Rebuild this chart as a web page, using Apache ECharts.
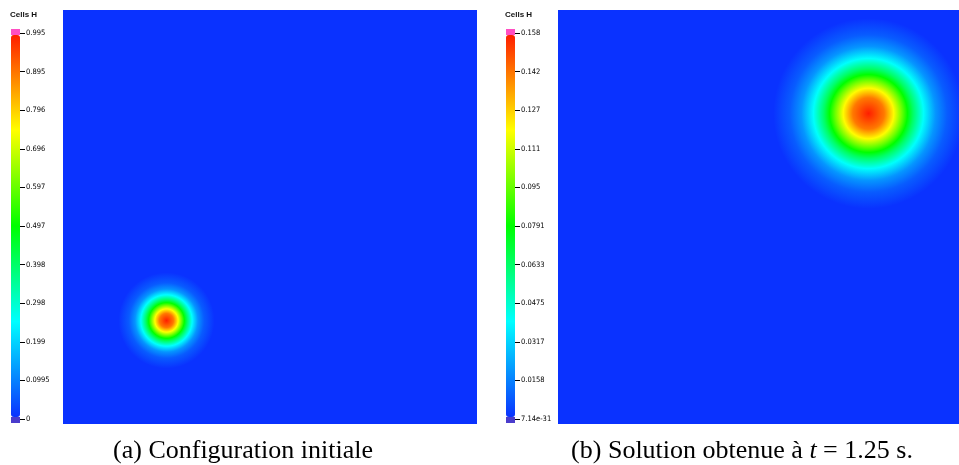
<!DOCTYPE html>
<html>
<head>
<meta charset="utf-8">
<script src="https://cdn.jsdelivr.net/npm/echarts/dist/echarts.min.js"></script>
<style>
html,body{margin:0;padding:0;background:#ffffff;}
#c{width:959px;height:465px;}
</style>
</head>
<body>
<div id="c"></div>
<script>
// ---- data ----
const varName = 'Cells H';
const ticksA = ['0','0.0995','0.199','0.298','0.398','0.497','0.597','0.696','0.796','0.895','0.995'];
const ticksB = ['7.14e-31','0.0158','0.0317','0.0475','0.0633','0.0791','0.095','0.111','0.127','0.142','0.158'];
const rangeA = [0, 0.995];
const rangeB = [7.14e-31, 0.158];
// blob centre (domain units) and peak value
const peakA = [0.25, 0.25, 0.995];
const peakB = [0.75, 0.75, 0.158];
// radial profile: field value levels and the radius (domain units) where each is reached
const levelsA = [0.995, 0.896, 0.746, 0.597, 0.498, 0.398, 0.249, 0.119, 0.050, 0];
const radiiA  = [0, 0.017, 0.028, 0.037, 0.043, 0.050, 0.062, 0.076, 0.091, 0.116];
const levelsB = [0.158, 0.142, 0.119, 0.095, 0.079, 0.063, 0.040, 0.019, 0.008, 0];
const radiiB  = [0, 0.038, 0.061, 0.081, 0.094, 0.108, 0.133, 0.162, 0.190, 0.230];
const captionA = '(a) Configuration initiale';
const captionB = '(b) Solution obtenue à {i|t} = 1.25 s.';

// ---- styling ----
const cmap = ['#0a32ff', '#00ffff', '#00ff00', '#ffff00', '#ff1e00'];
const tickFont = "'Liberation Sans Narrow','Arial Narrow','DejaVu Sans Condensed','Liberation Sans',sans-serif";
const PANEL = 414;               // full domain size in px
const VISIBLE_B = 959 - 558;     // panel b is cut by the page edge

function blobRenderer(levels, radii, range) {
  return function (params, api) {
    const c = api.coord([api.value(0), api.value(1)]);
    const outer = radii[radii.length - 1];
    const c2 = api.coord([api.value(0), api.value(1) + outer]);
    const rPx = Math.abs(c2[1] - c[1]);
    const stops = levels.map(function (v, i) {
      let t = (v - range[0]) / (range[1] - range[0]);
      t = Math.max(0, Math.min(1, t));
      return { offset: radii[i] / outer, color: echarts.color.lerp(t, cmap) };
    });
    return {
      type: 'circle',
      shape: { cx: c[0], cy: c[1], r: rPx },
      style: { fill: new echarts.graphic.RadialGradient(0.5, 0.5, 0.5, stops) }
    };
  };
}

const chart = echarts.init(document.getElementById('c'));

function panelGrid(left, width) {
  return { left: left, top: 10, width: width, height: PANEL, show: true, backgroundColor: cmap[0], borderWidth: 0, z: 1 };
}
// narrow grid just right of each colour bar; its split lines act as the tick dashes
function tickGrid(left) {
  return { left: left, top: 33, width: 5, height: 386, show: false, z: 0 };
}
function hiddenValueAxis(gridIndex, max) {
  return { type: 'value', gridIndex: gridIndex, min: 0, max: max, show: false };
}
function tickAxis(gridIndex, labels) {
  return {
    type: 'category', gridIndex: gridIndex, data: labels, position: 'right', boundaryGap: false, z: 0,
    axisLine: { show: false },
    axisTick: { show: false },
    splitLine: { show: true, lineStyle: { color: '#000', width: 1, type: 'solid' } },
    axisLabel: { margin: 1, fontSize: 7.5, color: '#000', fontFamily: tickFont }
  };
}

chart.setOption({
  animation: false,
  grid: [panelGrid(63, PANEL), panelGrid(558, VISIBLE_B), tickGrid(20), tickGrid(515)],
  xAxis: [hiddenValueAxis(0, 1), hiddenValueAxis(1, VISIBLE_B / PANEL), hiddenValueAxis(2, 1), hiddenValueAxis(3, 1)],
  yAxis: [hiddenValueAxis(0, 1), hiddenValueAxis(1, 1), tickAxis(2, ticksA), tickAxis(3, ticksB)],
  visualMap: [
    { type: 'continuous', seriesIndex: 0, dimension: 2, min: rangeA[0], max: rangeA[1],
      inRange: { color: cmap }, left: 11, top: 35, itemWidth: 9, itemHeight: 382,
      calculable: false, hoverLink: false, padding: 0, text: null },
    { type: 'continuous', seriesIndex: 1, dimension: 2, min: rangeB[0], max: rangeB[1],
      inRange: { color: cmap }, left: 506, top: 35, itemWidth: 9, itemHeight: 382,
      calculable: false, hoverLink: false, padding: 0, text: null }
  ],
  series: [
    { type: 'custom', xAxisIndex: 0, yAxisIndex: 0, data: [peakA], clip: true, silent: true, z: 2,
      renderItem: blobRenderer(levelsA, radiiA, rangeA) },
    { type: 'custom', xAxisIndex: 1, yAxisIndex: 1, data: [peakB], clip: true, silent: true, z: 2,
      renderItem: blobRenderer(levelsB, radiiB, rangeB) }
  ],
  graphic: [
    { type: 'rect', shape: { x: 11, y: 29, width: 9, height: 6 }, style: { fill: '#ff4fc3' }, z: 5 },
    { type: 'rect', shape: { x: 11, y: 417, width: 9, height: 6 }, style: { fill: '#4a3ccc' }, z: 5 },
    { type: 'rect', shape: { x: 506, y: 29, width: 9, height: 6 }, style: { fill: '#ff4fc3' }, z: 5 },
    { type: 'rect', shape: { x: 506, y: 417, width: 9, height: 6 }, style: { fill: '#4a3ccc' }, z: 5 },
    { type: 'text', x: 10, y: 15, style: { text: varName, font: "bold 8px 'Liberation Sans'", fill: '#111', textVerticalAlign: 'middle' } },
    { type: 'text', x: 505, y: 15, style: { text: varName, font: "bold 8px 'Liberation Sans'", fill: '#111', textVerticalAlign: 'middle' } },
    { type: 'text', x: 243, y: 451, style: { text: captionA, font: "26px 'Liberation Serif'", fill: '#000', textAlign: 'center', textVerticalAlign: 'middle' } },
    { type: 'text', x: 742, y: 451, style: { text: captionB, font: "26px 'Liberation Serif'", fill: '#000', textAlign: 'center', textVerticalAlign: 'middle',
      rich: { i: { fontStyle: 'italic', fontSize: 26, fontFamily: 'Liberation Serif', fill: '#000' } } } }
  ]
});
</script>
</body>
</html>
